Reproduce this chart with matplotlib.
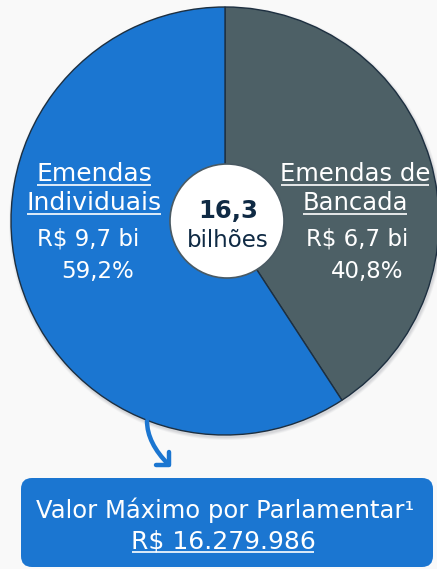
import matplotlib
matplotlib.use("Agg")
import matplotlib.pyplot as plt
from matplotlib.patches import Circle, FancyBboxPatch, FancyArrowPatch

# ---- data ----
categories = ["Emendas de\nBancada", "Emendas\nIndividuais"]
values_bi = [6.7, 9.7]
shares = [40.8, 59.2]
value_labels = ["R$ 6,7 bi", "R$ 9,7 bi"]
share_labels = ["40,8%", "59,2%"]
total_label = ["16,3", "bilhões"]
box_lines = ["Valor Máximo por Parlamentar¹", "R$ 16.279.986"]

colors = ["#4d6066", "#1b76d1"]
BG = "#f9f9f9"
NAVY = "#0f2a44"

W, H = 437, 569
fig = plt.figure(figsize=(W / 100, H / 100), dpi=100, facecolor=BG)
ax = fig.add_axes([0, 0, 1, 1])
ax.set_facecolor(BG)

def Y(yp):
    return H - yp

cx, cy, R = 225, Y(221), 214

# subtle shadow
for i, a in enumerate([0.10, 0.14, 0.18]):
    ax.add_patch(Circle((cx + 1, cy - 2), R + 3 - i, color="#9aa0a6", alpha=a,
                        zorder=0.5, lw=0))

wedges, _ = ax.pie(shares, colors=colors, startangle=90, counterclock=False,
                   center=(cx, cy), radius=R, frame=True,
                   wedgeprops=dict(edgecolor="#1d2f40", linewidth=1.0))
ax.set_xlim(0, W)
ax.set_ylim(0, H)
ax.set_aspect("equal")
ax.axis("off")

# center circle
ax.add_patch(Circle((227, Y(221)), 57, facecolor="white", edgecolor="#4a5a63",
                    linewidth=1.2, zorder=5))
ax.text(228, Y(211), total_label[0], ha="center", va="center", fontsize=17.5,
        fontweight="bold", color=NAVY, zorder=6)
ax.text(228, Y(240), total_label[1], ha="center", va="center", fontsize=16.5,
        color=NAVY, zorder=6)

LBL = 18
VAL = 16.5
underline = []
# left labels (Individuais)
l1, l2 = categories[1].split("\n")
underline.append(ax.text(94, Y(174), l1, ha="center", va="center", fontsize=LBL,
                         color="white", zorder=6))
underline.append(ax.text(94, Y(203), l2, ha="center", va="center", fontsize=LBL,
                         color="white", zorder=6))
ax.text(88, Y(239), value_labels[1], ha="center", va="center", fontsize=VAL,
        color="white", zorder=6)
ax.text(98, Y(271), share_labels[1], ha="center", va="center", fontsize=VAL,
        color="white", zorder=6)

# right labels (Bancada)
r1, r2 = categories[0].split("\n")
underline.append(ax.text(355, Y(174), r1, ha="center", va="center", fontsize=LBL - 0.5,
                         color="white", zorder=6))
underline.append(ax.text(355, Y(203), r2, ha="center", va="center", fontsize=LBL - 0.5,
                         color="white", zorder=6))
ax.text(357, Y(239), value_labels[0], ha="center", va="center", fontsize=VAL,
        color="white", zorder=6)
ax.text(367, Y(271), share_labels[0], ha="center", va="center", fontsize=VAL,
        color="white", zorder=6)

# arrow
arr = FancyArrowPatch((147, Y(421)), (171, Y(467)),
                      connectionstyle="angle3,angleA=90,angleB=135",
                      arrowstyle="->,head_length=6.5,head_width=6.5",
                      color="#1b76d1", linewidth=3.2, zorder=4,
                      mutation_scale=1, shrinkA=0, shrinkB=0,
                      capstyle="round", joinstyle="round")
ax.add_patch(arr)

# bottom box
box = FancyBboxPatch((21, Y(567)), 412, 89,
                     boxstyle="round,pad=0,rounding_size=11",
                     facecolor="#1b76d1", edgecolor="none", zorder=3)
ax.add_patch(box)
ax.text(225, Y(510), box_lines[0], ha="center", va="center", fontsize=17.5,
        color="white", zorder=6)
underline.append(ax.text(223, Y(541), box_lines[1], ha="center", va="center",
                         fontsize=18, color="white", zorder=6))

# draw underlines
fig.canvas.draw()
r = fig.canvas.get_renderer()
inv = ax.transData.inverted()
for t in underline:
    bb = t.get_window_extent(renderer=r)
    (x0, y0), (x1, y1) = inv.transform([(bb.x0, bb.y0), (bb.x1, bb.y1)])
    ax.plot([x0 + 1, x1 - 1], [y0 + 1.5, y0 + 1.5], color="white", lw=1.2,
            zorder=6, solid_capstyle="butt")

fig.savefig("out.png", dpi=100, facecolor=BG)
